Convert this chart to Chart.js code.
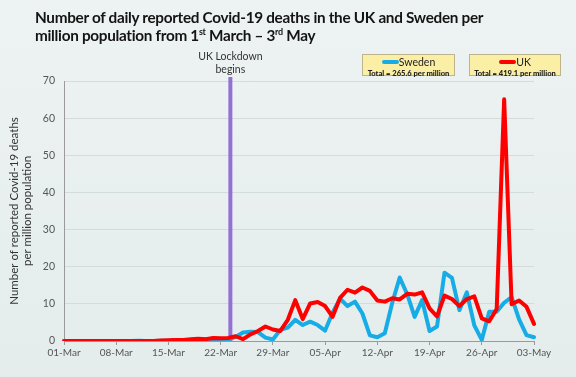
<!DOCTYPE html>
<html>
<head>
<meta charset="utf-8">
<script src="https://cdn.jsdelivr.net/npm/chart.js@4.4.1/dist/chart.umd.min.js"></script>
<style>
  html, body { margin: 0; padding: 0; }
  body { background: #e6efee; width: 576px; height: 377px; overflow: hidden; }
  #wrap { position: relative; width: 576px; height: 377px; background: linear-gradient(#edf3f2, #e4edec); }
  #c { position: absolute; left: 0; top: 0; }
  #title { position: absolute; left: 35px; top: 8px; font-family: Lato, sans-serif; font-weight: 700; font-size: 15.3px; line-height: 18px; color: #141414; letter-spacing: -0.3px; white-space: nowrap; }
  #title sup { font-size: 9px; vertical-align: 6px; line-height: 0; }
  .lg { position: absolute; background: #fbefa6; border: 1px solid #bdb48c; box-sizing: border-box; font-family: Lato, sans-serif; color: #222; text-align: center; }
  .lg .l1 { font-size: 10.5px; line-height: 11px; margin-top: 2px; }
  .lg .bar { display: inline-block; width: 17px; height: 4px; vertical-align: 2px; border-radius: 2px; }
  .lg .l2 { font-size: 7.6px; font-weight: 900; line-height: 8px; margin-top: 1px; }
</style>
</head>
<body>
<div id="wrap">
  <canvas id="c" width="576" height="377"></canvas>
  <div id="title">Number of daily reported Covid-19 deaths in the UK and Sweden per<br>million population from 1<sup>st</sup> March – 3<sup>rd</sup> May</div>
  <div class="lg" id="lgSe" style="left:362px;top:54px;width:93px;height:22px;">
    <div class="l1"><span class="bar" style="background:#18ace6"></span><span id="seName"></span></div>
    <div class="l2" id="seTot"></div>
  </div>
  <div class="lg" id="lgUk" style="left:469px;top:54px;width:92px;height:22px;">
    <div class="l1"><span class="bar" style="background:#ff0000"></span><span id="ukName"></span></div>
    <div class="l2" id="ukTot"></div>
  </div>
</div>
<script>
// Categories: one per day, 01-Mar .. 03-May
const dates = [
  '01-Mar','02-Mar','03-Mar','04-Mar','05-Mar','06-Mar','07-Mar','08-Mar','09-Mar','10-Mar',
  '11-Mar','12-Mar','13-Mar','14-Mar','15-Mar','16-Mar','17-Mar','18-Mar','19-Mar','20-Mar',
  '21-Mar','22-Mar','23-Mar','24-Mar','25-Mar','26-Mar','27-Mar','28-Mar','29-Mar','30-Mar',
  '31-Mar','01-Apr','02-Apr','03-Apr','04-Apr','05-Apr','06-Apr','07-Apr','08-Apr','09-Apr',
  '10-Apr','11-Apr','12-Apr','13-Apr','14-Apr','15-Apr','16-Apr','17-Apr','18-Apr','19-Apr',
  '20-Apr','21-Apr','22-Apr','23-Apr','24-Apr','25-Apr','26-Apr','27-Apr','28-Apr','29-Apr',
  '30-Apr','01-May','02-May','03-May'
];
const tickLabels = ['01-Mar','08-Mar','15-Mar','22-Mar','29-Mar','05-Apr','12-Apr','19-Apr','26-Apr','03-May'];

// Daily reported deaths per million population
const sweden = [
  0, 0, 0, 0, 0, 0, 0, 0, 0, 0,
  0.1, 0, 0, 0.1, 0.1, 0.3, 0.1, 0.3, 0.1, 0.5,
  0.4, 0.1, 0.4, 1.1, 2.3, 2.5, 2.4, 0.9, 0.4, 3.0,
  3.6, 5.7, 4.3, 5.2, 4.3, 2.8, 7.6, 11.4, 9.4, 10.6,
  7.4, 1.5, 1.0, 2.1, 10.3, 17.1, 12.6, 6.5, 11.0, 2.7,
  3.9, 18.4, 17.0, 8.3, 13.1, 4.2, 0.3, 7.9, 7.9, 10.3,
  11.8, 5.8, 1.6, 1.0
];
const uk = [
  0, 0, 0, 0, 0.01, 0.01, 0, 0.01, 0.01, 0.03,
  0.03, 0, 0.03, 0.16, 0.21, 0.29, 0.24, 0.49, 0.59, 0.49,
  0.83, 0.71, 0.8, 1.28, 0.5, 1.8, 2.7, 3.9, 3.1, 2.7,
  5.7, 11.0, 5.9, 10.1, 10.5, 9.4, 6.5, 11.6, 13.8, 13.0,
  14.4, 13.5, 10.9, 10.6, 11.5, 11.2, 12.7, 12.5, 13.1, 8.8,
  6.6, 12.2, 11.3, 9.4, 11.3, 12.0, 6.1, 5.3, 8.6, 65.1,
  9.9, 10.9, 9.2, 4.6
];
const seriesNames = ['Sweden', 'UK'];
const totals = ['Total = 265.6 per million', 'Total = 419.1 per million'];
const yTitle = ['Number of reported Covid-19 deaths', 'per million population'];
const lockdownLabel = ['UK Lockdown', 'begins'];
const lockdownDay = 22.3; // just after 22-Mar tick, as drawn in the reference

document.getElementById('seName').textContent = seriesNames[0];
document.getElementById('ukName').textContent = seriesNames[1];
document.getElementById('seTot').textContent = totals[0];
document.getElementById('ukTot').textContent = totals[1];

const lockdownPlugin = {
  id: 'lockdown',
  beforeDatasetsDraw(chart) {
    const { ctx, scales } = chart;
    const x = scales.x.getPixelForValue(lockdownDay);
    const yBottom = scales.y.getPixelForValue(0);
    ctx.save();
    ctx.strokeStyle = '#9470d6';
    ctx.lineWidth = 4;
    ctx.beginPath();
    ctx.moveTo(x, 77);
    ctx.lineTo(x, yBottom);
    ctx.stroke();
    ctx.fillStyle = '#333';
    ctx.font = '10.5px Lato, sans-serif';
    ctx.textAlign = 'center';
    ctx.textBaseline = 'middle';
    ctx.fillText(lockdownLabel[0], x, 57);
    ctx.fillText(lockdownLabel[1], x, 69.5);
    ctx.restore();
  }
};

new Chart(document.getElementById('c'), {
  type: 'line',
  data: {
    labels: dates,
    datasets: [
      { label: seriesNames[1], data: uk, borderColor: '#ff0000', borderWidth: 4, pointRadius: 0, tension: 0, borderJoinStyle: 'round', borderCapStyle: 'round' },
      { label: seriesNames[0], data: sweden, borderColor: '#18ace6', borderWidth: 4, pointRadius: 0, tension: 0, borderJoinStyle: 'round', borderCapStyle: 'round' }
    ]
  },
  options: {
    responsive: false,
    animation: false,
    devicePixelRatio: 1,
    layout: { padding: { top: 81, right: 42, bottom: 0, left: 0 } },
    plugins: { legend: { display: false }, tooltip: { enabled: false }, title: { display: false } },
    scales: {
      x: {
        type: 'category',
        offset: false,
        afterBuildTicks: (axis) => { axis.ticks = axis.ticks.filter(t => tickLabels.includes(dates[t.value])); },
        afterFit: (axis) => { axis.height = 36; },
        ticks: { autoSkip: false, maxRotation: 0, color: '#555', font: { family: 'Lato, sans-serif', size: 10 }, padding: 2 },
        grid: { display: true, drawOnChartArea: false, drawTicks: true, tickLength: 4, color: '#9a9a9a' },
        border: { display: true, color: '#9a9a9a', width: 1 }
      },
      y: {
        min: 0, max: 70,
        afterFit: (axis) => { axis.width = 64; },
        ticks: { stepSize: 10, color: '#555', font: { family: 'Lato, sans-serif', size: 10.5 }, padding: 9 },
        grid: { color: '#d3dbdb', drawTicks: false, tickLength: 0 },
        border: { display: true, color: '#9a9a9a', width: 1 },
        title: { display: true, text: yTitle, color: '#333', font: { family: 'Lato, sans-serif', size: 11.5 }, padding: { top: 7, bottom: 0 } }
      }
    }
  },
  plugins: [lockdownPlugin]
});
</script>
</body>
</html>
